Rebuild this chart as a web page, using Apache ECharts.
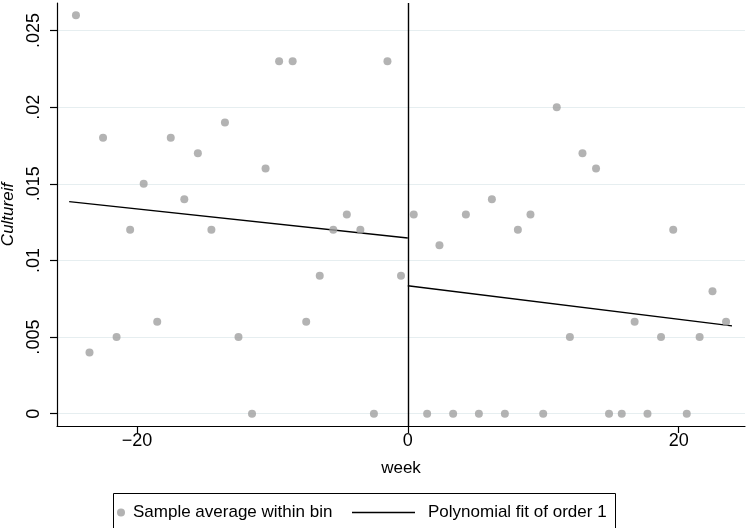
<!DOCTYPE html>
<html><head><meta charset="utf-8">
<script src="https://cdn.jsdelivr.net/npm/echarts@6/dist/echarts.min.js"></script>
<style>html,body{margin:0;padding:0;background:#fff}#c{width:750px;height:528px}</style>
</head><body><div id="c"></div>
<script>
const leftWeeks = [-24.5,-23.5,-22.5,-21.5,-20.5,-19.5,-18.5,-17.5,-16.5,-15.5,-14.5,-13.5,-12.5,-11.5,-10.5,-9.5,-8.5,-7.5,-6.5,-5.5,-4.5,-3.5,-2.5,-1.5,-0.5];
const leftValues = [0.026,0.004,0.018,0.005,0.012,0.015,0.006,0.018,0.014,0.017,0.012,0.019,0.005,0,0.016,0.023,0.023,0.006,0.009,0.012,0.013,0.012,0,0.023,0.009];
const rightWeeks = [0.44,1.43,2.34,3.35,4.29,5.25,6.21,7.17,8.13,9.06,10.0,11.0,11.97,12.9,13.9,14.86,15.8,16.75,17.7,18.7,19.6,20.6,21.55,22.5,23.5];
const rightValues = [0.013,0,0.011,0,0.013,0,0.014,0,0.012,0.013,0,0.020,0.005,0.017,0.016,0,0,0.006,0,0.005,0.012,0,0.005,0.008,0.006];
const fitLeftX = [-25, 0];
const fitLeftY = [0.01384, 0.01147];
const fitRightX = [0, 23.94];
const fitRightY = [0.00835, 0.00573];
const xTicks = [-20, 0, 20];
const yTicks = [0, 0.005, 0.01, 0.015, 0.02, 0.025];
const cutoff = 0;

const FONT = '"Liberation Sans", Arial, Helvetica, sans-serif';
const pts = leftWeeks.map((w,i)=>[w,leftValues[i]]).concat(rightWeeks.map((w,i)=>[w,rightValues[i]]));
const chart = echarts.init(document.getElementById('c'), null, {renderer:'canvas'});
chart.setOption({
  animation: false,
  backgroundColor: '#fff',
  grid: {left: 57, right: 5, top: 3, bottom: 102, containLabel: false, outerBoundsMode: 'none'},
  xAxis: {
    type: 'value', min: -25.9, max: 24.9,
    name: 'week', nameLocation: 'middle', nameGap: 34,
    nameTextStyle: {fontFamily: FONT, fontSize: 17, color: '#000'},
    axisLine: {show: true, onZero: false, lineStyle: {color: '#000', width: 1.2}},
    axisTick: {show: true, length: 7, customValues: xTicks, lineStyle: {color: '#000', width: 1.2}},
    axisLabel: {customValues: xTicks, fontFamily: FONT, fontSize: 18, color: '#000', margin: 6,
      formatter: v => String(v).replace('-', '\u2212')},
    splitLine: {show: false}
  },
  yAxis: {
    type: 'value', min: -0.0008, max: 0.0268,
    name: 'Cultureif', nameLocation: 'middle', nameGap: 38,
    nameTextStyle: {fontFamily: FONT, fontSize: 17, color: '#000', fontStyle: 'italic'},
    axisLine: {show: true, onZero: false, lineStyle: {color: '#000', width: 1.2}},
    axisTick: {show: true, length: 7, customValues: yTicks, lineStyle: {color: '#000', width: 1.2}},
    axisLabel: {customValues: yTicks, rotate: 90, fontFamily: FONT, fontSize: 18, color: '#000', margin: 14,
      formatter: v => v === 0 ? '0' : String(+v.toFixed(4)).replace('0.', '.')},
    splitLine: {show: true, lineStyle: {color: '#e6eef0', width: 1.2}}
  },
  legend: [
    {data: ['Sample average within bin'], left: 117, top: 504, padding: 0,
     itemWidth: 8, itemHeight: 8, icon: 'circle',
     textStyle: {fontFamily: FONT, fontSize: 17, color: '#000', padding: [0,0,0,3]}},
    {data: [{name: 'Polynomial fit of order 1', icon: 'rect'}], left: 352, top: 504, padding: 0,
     itemWidth: 63, itemHeight: 1.5, itemStyle: {color: '#000'},
     textStyle: {fontFamily: FONT, fontSize: 17, color: '#000', padding: [0,0,0,8]}}
  ],
  graphic: [{type: 'rect', left: 111, top: 491, shape: {width: 502, height: 36},
    style: {fill: 'none', stroke: '#000', lineWidth: 1}, silent: true}],
  series: [
    {name: 'Sample average within bin', type: 'scatter', data: pts, symbolSize: 8,
     itemStyle: {color: '#a0a0a0'}, z: 3,
     markLine: {silent: true, symbol: 'none', label: {show: false},
       lineStyle: {color: '#000', width: 1.4, type: 'solid'},
       data: [{xAxis: cutoff}]}},
    {name: 'Polynomial fit of order 1', type: 'line', symbol: 'none',
     data: fitLeftX.map((x,i)=>[x,fitLeftY[i]]), lineStyle: {color: '#000', width: 1.4}, itemStyle:{color:'#000'}},
    {name: 'Polynomial fit of order 1', type: 'line', symbol: 'none',
     data: fitRightX.map((x,i)=>[x,fitRightY[i]]), lineStyle: {color: '#000', width: 1.4}, itemStyle:{color:'#000'}}
  ]
});
</script></body></html>
